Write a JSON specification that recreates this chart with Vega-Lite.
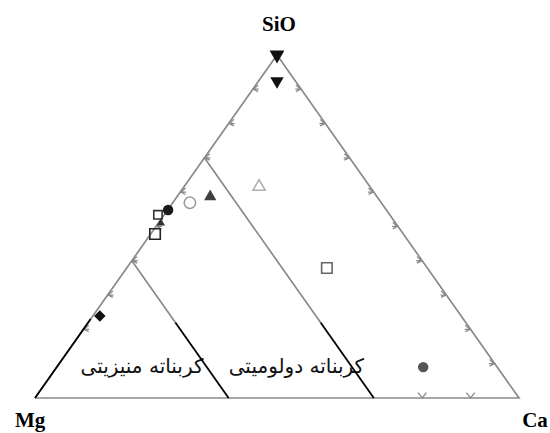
{
  "$schema": "https://vega.github.io/schema/vega-lite/v6.json",
  "width": 550,
  "height": 433,
  "autosize": {"type": "none"},
  "padding": 0,
  "background": "white",
  "config": {"view": {"stroke": null}},
  "resolve": {"scale": {"shape": "independent", "color": "independent", "size": "independent"}},
  "datasets": {
    "edges": [
      {"x": 0, "y": 0, "o": 1},
      {"x": 50, "y": 100, "o": 2},
      {"x": 100, "y": 0, "o": 3},
      {"x": 0, "y": 0, "o": 4}
    ],
    "inner": [
      {"id": "a", "x": 35, "y": 70, "o": 1},
      {"id": "a", "x": 59, "y": 22, "o": 2},
      {"id": "b", "x": 20, "y": 40, "o": 1},
      {"id": "b", "x": 29, "y": 22, "o": 2}
    ],
    "dark": [
      {"id": "a", "x": 59, "y": 22, "o": 1},
      {"id": "a", "x": 70, "y": 0, "o": 2},
      {"id": "b", "x": 29, "y": 22, "o": 1},
      {"id": "b", "x": 40, "y": 0, "o": 2},
      {"id": "c", "x": 0, "y": 0, "o": 1},
      {"id": "c", "x": 11.5, "y": 23, "o": 2}
    ],
    "ticks": [
      {"side": "left", "x": 10, "y": 20},
      {"side": "left", "x": 15, "y": 30},
      {"side": "left", "x": 20, "y": 40},
      {"side": "left", "x": 25, "y": 50},
      {"side": "left", "x": 30, "y": 60},
      {"side": "left", "x": 35, "y": 70},
      {"side": "left", "x": 40, "y": 80},
      {"side": "left", "x": 45, "y": 90},
      {"side": "right", "x": 95, "y": 10},
      {"side": "right", "x": 90, "y": 20},
      {"side": "right", "x": 85, "y": 30},
      {"side": "right", "x": 80, "y": 40},
      {"side": "right", "x": 75, "y": 50},
      {"side": "right", "x": 70, "y": 60},
      {"side": "right", "x": 65, "y": 70},
      {"side": "right", "x": 60, "y": 80},
      {"side": "right", "x": 55, "y": 90},
      {"side": "bottom", "x": 80, "y": 0},
      {"side": "bottom", "x": 90, "y": 0}
    ],
    "samples": [
      {"sample": "S1", "kind": "filled", "x": 50.0, "y": 99.4},
      {"sample": "S2", "kind": "filled", "x": 50.0, "y": 91.8},
      {"sample": "S3", "kind": "open", "x": 46.3, "y": 62.1},
      {"sample": "S4", "kind": "filled", "x": 36.2, "y": 59.2},
      {"sample": "S5", "kind": "open", "x": 32.0, "y": 56.9},
      {"sample": "S6", "kind": "filled", "x": 27.5, "y": 54.8},
      {"sample": "S7", "kind": "open", "x": 25.4, "y": 53.4},
      {"sample": "S8", "kind": "filled", "x": 26.0, "y": 51.3},
      {"sample": "S9", "kind": "open", "x": 24.8, "y": 47.8},
      {"sample": "S10", "kind": "filled", "x": 13.4, "y": 23.9},
      {"sample": "S11", "kind": "open", "x": 60.3, "y": 37.9},
      {"sample": "S12", "kind": "filled", "x": 80.2, "y": 9.0}
    ],
    "vertexLabels": [
      {"label": "SiO", "x": 50.4, "y": 108.6},
      {"label": "Mg", "x": -1.0, "y": -6.6},
      {"label": "Ca", "x": 103.3, "y": -6.6}
    ],
    "fieldLabels": [
      {"label": "کربناته منیزیتی", "x": 22.1, "y": 9.0},
      {"label": "کربناته دولومیتی", "x": 54.0, "y": 9.0}
    ]
  },
  "encoding": {
    "x": {"field": "x", "type": "quantitative", "scale": {"domain": [-7.23, 106.4], "nice": false, "zero": false}, "axis": null},
    "y": {"field": "y", "type": "quantitative", "scale": {"domain": [-10.2, 116.0], "nice": false, "zero": false}, "axis": null}
  },
  "layer": [
    {
      "data": {"name": "edges"},
      "mark": {"type": "line", "color": "#8a8a8a", "strokeWidth": 1.7},
      "encoding": {"order": {"field": "o", "type": "quantitative"}}
    },
    {
      "data": {"name": "inner"},
      "mark": {"type": "line", "color": "#8a8a8a", "strokeWidth": 1.7},
      "encoding": {"detail": {"field": "id"}, "order": {"field": "o", "type": "quantitative"}}
    },
    {
      "data": {"name": "ticks"},
      "transform": [{"filter": "datum.side === 'left'"}],
      "mark": {"type": "point", "shape": "M-0.1,0L1,0M0.9,-0.7L0.1,0L0.9,0.4", "size": 140, "stroke": "#8a8a8a", "strokeWidth": 1.3, "filled": false, "opacity": 1}
    },
    {
      "data": {"name": "ticks"},
      "transform": [{"filter": "datum.side === 'right'"}],
      "mark": {"type": "point", "shape": "M0.1,0L-1,0M-0.9,-0.7L-0.1,0L-0.9,0.4", "size": 140, "stroke": "#8a8a8a", "strokeWidth": 1.3, "filled": false, "opacity": 1}
    },
    {
      "data": {"name": "ticks"},
      "transform": [{"filter": "datum.side === 'bottom'"}],
      "mark": {"type": "point", "shape": "M-0.7,-0.9L0,0L0.7,-0.9", "size": 140, "stroke": "#8a8a8a", "strokeWidth": 1.3, "filled": false, "opacity": 1}
    },
    {
      "data": {"name": "fieldLabels"},
      "mark": {"type": "text", "font": "DejaVu Sans", "fontSize": 20, "color": "#111111", "align": "center", "baseline": "middle"},
      "encoding": {"text": {"field": "label"}}
    },
    {
      "data": {"name": "dark"},
      "mark": {"type": "line", "color": "#000000", "strokeWidth": 1.8},
      "encoding": {"detail": {"field": "id"}, "order": {"field": "o", "type": "quantitative"}}
    },
    {
      "data": {"name": "samples"},
      "transform": [{"filter": "datum.kind === 'filled'"}],
      "mark": {"type": "point", "filled": true, "opacity": 1, "strokeWidth": 0},
      "encoding": {
        "shape": {"field": "sample", "type": "nominal", "legend": null, "scale": {"domain": ["S1", "S2", "S4", "S6", "S8", "S10", "S12"], "range": ["triangle-down", "triangle-down", "triangle-up", "circle", "triangle-up", "diamond", "circle"]}},
        "color": {"field": "sample", "type": "nominal", "legend": null, "scale": {"domain": ["S1", "S2", "S4", "S6", "S8", "S10", "S12"], "range": ["#111111", "#111111", "#404040", "#1a1a1a", "#333333", "#111111", "#555555"]}},
        "size": {"field": "sample", "type": "nominal", "legend": null, "scale": {"type": "ordinal", "domain": ["S1", "S2", "S4", "S6", "S8", "S10", "S12"], "range": [220, 180, 150, 110, 70, 130, 110]}}
      }
    },
    {
      "data": {"name": "samples"},
      "transform": [{"filter": "datum.kind === 'open'"}],
      "mark": {"type": "point", "filled": false, "opacity": 1, "strokeWidth": 1.6},
      "encoding": {
        "shape": {"field": "sample", "type": "nominal", "legend": null, "scale": {"domain": ["S3", "S5", "S7", "S9", "S11"], "range": ["triangle-up", "circle", "square", "square", "square"]}},
        "color": {"field": "sample", "type": "nominal", "legend": null, "scale": {"domain": ["S3", "S5", "S7", "S9", "S11"], "range": ["#b0b0b0", "#9a9a9a", "#333333", "#222222", "#666666"]}},
        "size": {"field": "sample", "type": "nominal", "legend": null, "scale": {"type": "ordinal", "domain": ["S3", "S5", "S7", "S9", "S11"], "range": [150, 130, 70, 110, 110]}}
      }
    },
    {
      "data": {"name": "vertexLabels"},
      "mark": {"type": "text", "font": "Liberation Serif", "fontWeight": "bold", "fontSize": 21, "color": "#000000", "align": "center", "baseline": "middle"},
      "encoding": {"text": {"field": "label"}}
    }
  ]
}
